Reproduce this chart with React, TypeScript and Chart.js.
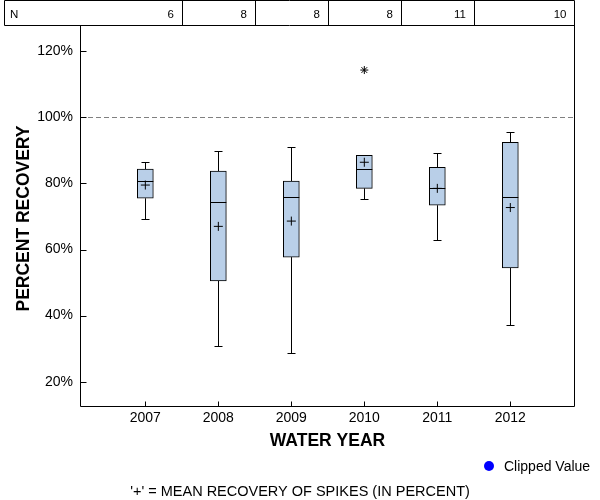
import React, { useEffect, useRef } from "react";
import { Chart, registerables } from "chart.js";

Chart.register(...registerables);

// ---- data ----
const years = [2007, 2008, 2009, 2010, 2011, 2012];
const counts = [6, 8, 8, 8, 11, 10];
const whiskerLow = [69.2, 30.7, 28.7, 75.2, 62.8, 37.2];
const q1 = [75.5, 50.5, 57.7, 78.5, 73.4, 54.4];
const medians = [80.7, 74.3, 75.9, 84.3, 78.5, 75.8];
const q3 = [84.3, 83.7, 80.7, 88.5, 84.9, 92.4];
const whiskerHigh = [86.4, 89.7, 91.1, 88.7, 89.1, 95.5];
const means = [79.5, 67.0, 68.6, 86.4, 78.5, 72.7];
const outlierYears = [2010];
const outlierValues = [114.3];
const yTicks = [20, 40, 60, 80, 100, 120];
const referenceValue = 100;

const FONT = '"Liberation Sans", Arial, Helvetica, sans-serif';

const boxPlugin = {
  id: "boxPlugin",
  beforeDatasetsDraw(chart: any) {
    const { ctx, chartArea, scales } = chart;
    const { left, right } = chartArea;
    const x = scales.x;
    const y = scales.y;
    ctx.save();
    // reference line
    const ry = Math.round(y.getPixelForValue(referenceValue)) + 0.5;
    ctx.strokeStyle = "#808080";
    ctx.lineWidth = 1;
    ctx.setLineDash([5, 3]);
    ctx.beginPath();
    ctx.moveTo(left, ry);
    ctx.lineTo(right, ry);
    ctx.stroke();
    ctx.setLineDash([]);
    // whiskers
    ctx.strokeStyle = "#000";
    ctx.lineWidth = 1;
    years.forEach((yr, i) => {
      const px = Math.round(x.getPixelForValue(yr)) + 0.5;
      const yHi = Math.round(y.getPixelForValue(whiskerHigh[i])) + 0.5;
      const yLo = Math.round(y.getPixelForValue(whiskerLow[i])) + 0.5;
      const yQ3 = y.getPixelForValue(q3[i]);
      const yQ1 = y.getPixelForValue(q1[i]);
      ctx.beginPath();
      ctx.moveTo(px, yHi);
      ctx.lineTo(px, yQ3);
      ctx.moveTo(px, yQ1);
      ctx.lineTo(px, yLo);
      ctx.moveTo(px - 4, yHi);
      ctx.lineTo(px + 4, yHi);
      ctx.moveTo(px - 4, yLo);
      ctx.lineTo(px + 4, yLo);
      ctx.stroke();
    });
    ctx.restore();
  },
  afterDatasetsDraw(chart: any) {
    const { ctx, chartArea, scales } = chart;
    const { left, right, top, bottom } = chartArea;
    const x = scales.x;
    const y = scales.y;
    ctx.save();
    ctx.strokeStyle = "#000";
    ctx.lineWidth = 1;
    // medians
    years.forEach((yr, i) => {
      const px = x.getPixelForValue(yr);
      const my = Math.round(y.getPixelForValue(medians[i])) + 0.5;
      ctx.beginPath();
      ctx.moveTo(px - 8, my);
      ctx.lineTo(px + 8, my);
      ctx.stroke();
    });
    // frame
    const L = Math.round(left) + 0.5;
    const R = Math.round(right) - 0.5;
    const B = Math.round(bottom) + 0.5;
    const T = Math.round(top);
    ctx.beginPath();
    ctx.moveTo(L, T);
    ctx.lineTo(L, B);
    ctx.lineTo(R, B);
    ctx.lineTo(R, T);
    ctx.stroke();
    // inward ticks
    ctx.beginPath();
    yTicks.forEach((v) => {
      const py = Math.round(y.getPixelForValue(v)) + 0.5;
      ctx.moveTo(L, py);
      ctx.lineTo(L + 6, py);
    });
    years.forEach((v) => {
      const px = Math.round(x.getPixelForValue(v)) + 0.5;
      ctx.moveTo(px, B);
      ctx.lineTo(px, B - 5);
    });
    ctx.stroke();

    // header N table
    const tTop = 0.5;
    const tBot = Math.round(top) + 0.5;
    const tLeft = 4.5;
    ctx.beginPath();
    ctx.rect(tLeft, tTop, R - tLeft, tBot - tTop);
    years.slice(0, -1).forEach((yr) => {
      const dx = Math.round(x.getPixelForValue(yr + 0.5)) + 0.5;
      ctx.moveTo(dx, tTop);
      ctx.lineTo(dx, tBot);
    });
    ctx.stroke();
    ctx.fillStyle = "#000";
    ctx.font = `11.5px ${FONT}`;
    ctx.textBaseline = "middle";
    ctx.textAlign = "left";
    ctx.fillText("N", 10, 15);
    ctx.textAlign = "right";
    years.forEach((yr, i) => {
      const edge = i === years.length - 1 ? R : x.getPixelForValue(yr + 0.5);
      ctx.fillText(String(counts[i]), edge - 8, 15);
    });

    // axis titles
    ctx.font = `bold 17.5px ${FONT}`;
    ctx.textAlign = "center";
    ctx.textBaseline = "middle";
    ctx.fillText("WATER YEAR", (left + right) / 2, 441);
    ctx.save();
    ctx.translate(24, (top + bottom) / 2 + 3);
    ctx.rotate(-Math.PI / 2);
    ctx.fillText("PERCENT RECOVERY", 0, 0);
    ctx.restore();

    // legend
    ctx.fillStyle = "#0000FF";
    ctx.beginPath();
    ctx.arc(489, 466, 5, 0, Math.PI * 2);
    ctx.fill();
    ctx.fillStyle = "#000";
    ctx.font = `14px ${FONT}`;
    ctx.textAlign = "left";
    ctx.fillText("Clipped Value", 504, 467);

    // footnote
    ctx.font = `14.5px ${FONT}`;
    ctx.textAlign = "center";
    ctx.fillText("'+' = MEAN RECOVERY OF SPIKES (IN PERCENT)", 300, 492);
    ctx.restore();
  },
};

export default function App() {
  const ref = useRef<HTMLCanvasElement | null>(null);
  useEffect(() => {
    if (!ref.current) return;
    const chart = new Chart(ref.current, {
      type: "bar",
      data: {
        datasets: [
          {
            type: "bar",
            label: "box",
            data: years.map((yr, i) => ({ x: yr, y: [q1[i], q3[i]] })) as any,
            backgroundColor: "#B9CFE8",
            borderColor: "#000",
            borderWidth: 1,
            borderSkipped: false,
            barThickness: 16,
            order: 3,
          } as any,
          {
            type: "scatter",
            label: "mean",
            data: years.map((yr, i) => ({ x: yr, y: means[i] })),
            pointStyle: "cross",
            pointRadius: 4.5,
            borderColor: "#000",
            backgroundColor: "#000",
            borderWidth: 1,
            order: 1,
          } as any,
          {
            type: "scatter",
            label: "outlier",
            data: outlierYears.map((yr, i) => ({ x: yr, y: outlierValues[i] })),
            pointStyle: "star",
            pointRadius: 4,
            borderColor: "#000",
            backgroundColor: "#000",
            borderWidth: 1,
            order: 1,
          } as any,
        ],
      },
      options: {
        animation: false,
        responsive: false,
        maintainAspectRatio: false,
        layout: { padding: { top: 25, right: 25, left: 0, bottom: 64 } },
        plugins: { legend: { display: false }, tooltip: { enabled: false } },
        scales: {
          x: {
            type: "linear",
            min: 2006.105,
            max: 2012.886,
            offset: false,
            grid: { display: false, drawTicks: false },
            border: { display: false },
            afterBuildTicks: (s: any) => {
              s.ticks = years.map((v) => ({ value: v }));
            },
            afterFit: (s: any) => {
              s.height = 30;
            },
            ticks: {
              callback: (v: any) => String(v),
              color: "#000",
              font: { family: FONT, size: 14 },
              padding: 4,
              maxRotation: 0,
              autoSkip: false,
            },
          },
          y: {
            type: "linear",
            min: 12.65,
            max: 127.93,
            grid: { display: false, drawTicks: false },
            border: { display: false },
            afterBuildTicks: (s: any) => {
              s.ticks = yTicks.map((v) => ({ value: v }));
            },
            afterFit: (s: any) => {
              s.width = 80;
            },
            ticks: {
              callback: (v: any) => v + "%",
              color: "#000",
              font: { family: FONT, size: 14 },
              padding: 7,
              autoSkip: false,
            },
          },
        },
      } as any,
      plugins: [boxPlugin],
    });
    return () => chart.destroy();
  }, []);
  return (
    <div style={{ position: "absolute", left: 0, top: 0, width: 600, height: 500, background: "#fff" }}>
      <canvas ref={ref} width={600} height={500} style={{ width: 600, height: 500 }} />
    </div>
  );
}
